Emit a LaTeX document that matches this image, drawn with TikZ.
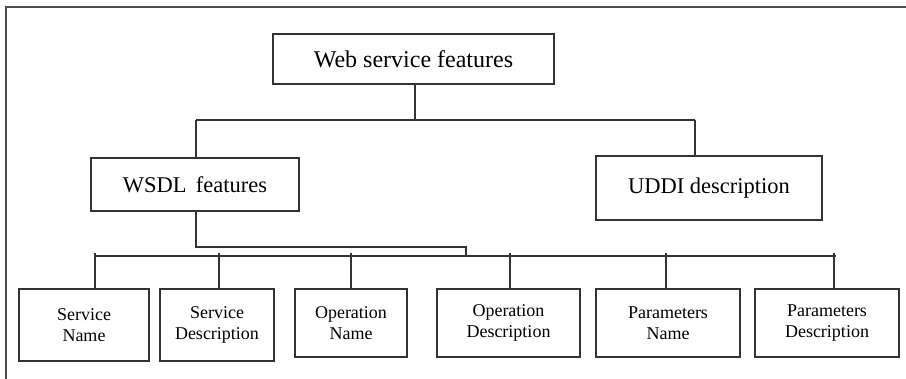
\documentclass[tikz,border=0pt]{standalone}
\usepackage{fontspec}
\setmainfont{Liberation Serif}
\begin{document}
\begin{tikzpicture}[x=1pt,y=-1pt,
  line width=1.1pt,
  wire/.style={draw=black!80, line width=1.1pt},
  box/.style={draw=black!80, line width=1.2pt, fill=white, inner sep=0pt, align=center},
  bigbox/.style={box, font=\fontsize{24}{28}\selectfont},
  midbox/.style={box, font=\fontsize{22.5}{26}\selectfont},
  leafbox/.style={box, font=\fontsize{18}{21}\selectfont, minimum width=143pt, minimum height=68pt}]
\useasboundingbox (0,0) rectangle (906,379);
\fill[white] (0,0) rectangle (906,379);
% cropped outer frame: top and left edges only
\draw[black!70, line width=1.3pt] (6,379) -- (6,7) -- (906,7);

% upper levels
\node[bigbox, minimum width=281pt, minimum height=50pt] (top) at (413.5,59) {Web service features};
\node[midbox, minimum width=208pt, minimum height=53pt] (wsdl) at (195,184.5) {WSDL\, features};
\node[midbox, minimum width=226pt, minimum height=64pt] (uddi) at (709,188) {UDDI description};

% leaves
\node[leafbox, minimum width=130pt, minimum height=72pt] (c1) at (84,325) {Service\\Name};
\node[leafbox, minimum width=114pt, minimum height=72pt] (c2) at (217,325) {Service\\Description};
\node[leafbox, minimum width=112pt] (c3) at (351,323) {Operation\\Name};
\node[leafbox] (c4) at (508.5,323) {Operation\\Description};
\node[leafbox, minimum width=144pt] (c5) at (668,323) {Parameters\\Name};
\node[leafbox, minimum width=144pt] (c6) at (827,323) {Parameters\\Description};

% top bus
\coordinate (tj) at (415,120);
\coordinate (tl) at (196,120);
\coordinate (tr) at (695,120);
\draw[wire] (top.south -| tj) -- (tj);
\draw[wire] (tl) -- (tr);
\draw[wire] (tl) -- (tl |- wsdl.north);
\draw[wire] (tr) -- (tr |- uddi.north);

% lower bus
\coordinate (wk) at (196,247);
\coordinate (wr) at (466,247);
\coordinate (bl) at (95,256);
\coordinate (br) at (836,256);
\draw[wire] (wsdl.south -| wk) -- (wk) -- (wr) -- (wr |- bl);
\draw[wire] (bl) -- (br);
\foreach \i/\x in {1/95,2/219,3/351,4/510,5/666,6/834}{
  \coordinate (k\i) at (\x,253);
  \draw[wire] (k\i) -- (k\i |- c\i.north);
}
\end{tikzpicture}
\end{document}
